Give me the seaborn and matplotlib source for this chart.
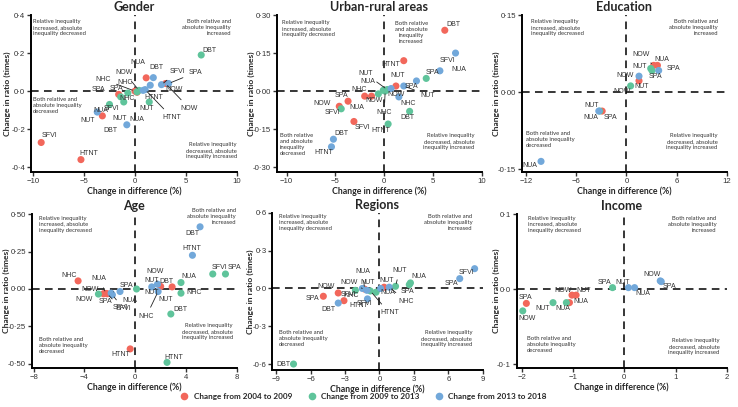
import numpy as np
import pandas as pd
import matplotlib
matplotlib.use("Agg")
import matplotlib.pyplot as plt
import seaborn as sns
from matplotlib.ticker import FuncFormatter
from matplotlib.lines import Line2D

# -----------------------------
# Data
# period: 0 = 2004-2009, 1 = 2009-2013, 2 = 2013-2018
# -----------------------------

periods = ["Change from 2004 to 2009", "Change from 2009 to 2013", "Change from 2013 to 2018"]
colors = ["#F2675B", "#5FC49B", "#72A8DA"]

# Gender
gender_ind = ["SFVI", "HTNT", "DBT", "SPA", "NHC", "NUT", "NUA", "NOW",
              "DBT", "NUA", "SFVI", "SPA", "NUT", "HTNT", "NHC", "NOW",
              "NUT", "NUA", "DBT", "SFVI", "SPA", "NOW", "NHC", "HTNT"]
gender_per = [0, 0, 0, 0, 0, 0, 0, 0, 1, 1, 1, 1, 1, 1, 1, 1, 2, 2, 2, 2, 2, 2, 2, 2]
gender_diff = [-9.2, -5.3, -3.2, -1.6, 0.0, 0.2, 1.1, 3.0,
               6.5, -2.5, -1.4, -0.7, -1.1, 1.4, 0.2, 0.4,
               -3.7, -0.8, 1.8, 2.6, 3.3, 1.5, 0.8, 1.0]
gender_ratio = [-0.27, -0.36, -0.13, -0.017, 0.0, -0.006, 0.07, 0.04,
                0.19, -0.07, -0.03, -0.01, -0.057, -0.057, -0.004, 0.004,
                -0.11, -0.177, 0.071, 0.034, 0.04, 0.031, 0.004, 0.008]

# Urban-rural areas
urban_ind = ["DBT", "HTNT", "NUT", "SFVI", "NOW", "SPA", "NHC", "NUA",
             "SPA", "DBT", "HTNT", "SFVI", "NOW", "NUA", "NUT", "NHC",
             "SFVI", "NUA", "SPA", "NUT", "NOW", "NHC", "DBT", "HTNT"]
urban_per = [0, 0, 0, 0, 0, 0, 0, 0, 1, 1, 1, 1, 1, 1, 1, 1, 2, 2, 2, 2, 2, 2, 2, 2]
urban_diff = [6.2, 2.0, 1.2, -3.1, -4.6, -3.7, -2.0, -1.3,
              4.3, 2.6, 0.4, -4.4, -0.6, -0.1, 0.3, 0.1,
              7.3, 5.7, 3.3, 2.0, 0.7, 1.5, -5.2, -5.4]
urban_ratio = [0.24, 0.12, 0.02, -0.12, -0.06, -0.04, -0.02, -0.02,
               0.05, -0.08, -0.13, -0.07, -0.011, 0.003, 0.006, 0.0,
               0.15, 0.08, 0.04, 0.02, 0.01, -0.023, -0.19, -0.22]

# Education
edu_ind = ["NOW", "NUA", "NUT", "SPA",
           "NUT", "SPA", "NOW", "NUA",
           "NUA", "NUT", "SPA", "NOW"]
edu_per = [0, 0, 0, 0, 1, 1, 1, 1, 2, 2, 2, 2]
edu_diff = [3.25, 3.7, 1.5, -2.9,
            2.9, 3.05, 0.5, -3.2,
            -10.2, -3.3, 3.85, 1.5]
edu_ratio = [0.052, 0.052, 0.022, -0.037,
             0.046, 0.042, 0.012, -0.037,
             -0.135, -0.037, 0.042, 0.031]

# Age
age_ind = ["NHC", "NOW", "NUA", "SPA", "SFVI", "HTNT", "DBT", "NUT",
           "NOW", "SPA", "SFVI", "NUA", "NHC", "DBT", "HTNT", "NUT",
           "DBT", "HTNT", "NUA", "SPA", "SFVI", "NUT", "NOW", "NHC"]
age_per = [0, 0, 0, 0, 0, 0, 0, 0, 1, 1, 1, 1, 1, 1, 1, 1, 2, 2, 2, 2, 2, 2, 2, 2]
age_diff = [-4.5, -2.4, -2.3, -2.5, -2.2, -0.4, 2.9, 2.0,
            -2.9, 7.1, 6.1, 3.6, 3.6, 2.8, 2.5, 0.1,
            5.1, 4.5, -1.2, -1.9, -1.8, 1.3, 1.75, 1.8]
age_ratio = [0.054, -0.03, -0.03, -0.032, -0.032, -0.40, 0.014, 0.017,
             -0.034, 0.10, 0.10, 0.043, -0.028, -0.167, -0.49, 0.0,
             0.415, 0.225, -0.017, -0.028, -0.039, 0.014, 0.032, -0.017]

# Regions
reg_ind = ["SPA", "NOW", "SFVI", "NUT", "NUA",
           "DBT", "NHC", "SFVI", "NUT", "NUA", "SPA", "HTNT",
           "SFVI", "SPA", "NHC", "NUA", "NUT", "NOW", "HTNT", "DBT"]
reg_per = [0, 0, 0, 0, 0, 1, 1, 1, 1, 1, 1, 1, 2, 2, 2, 2, 2, 2, 2, 2]
reg_diff = [-4.9, -3.6, -3.1, 0.4, -1.3,
            -7.5, -2.1, -0.3, 1.4, 2.7, 2.6, -0.8,
            8.3, 7.0, 0.85, 0.1, -1.1, -1.5, -1.05, -3.6]
reg_ratio = [-0.062, -0.036, -0.097, 0.01, -0.005,
             -0.60, -0.015, -0.03, 0.017, 0.044, 0.03, -0.02,
             0.157, 0.078, 0.01, 0.0, -0.015, 0.0, -0.083, -0.116]

# Income
inc_ind = ["SPA", "NUA", "NOW", "NUT",
           "NOW", "NUT", "NUA", "SPA",
           "NUT", "NUA", "NOW", "SPA"]
inc_per = [0, 0, 0, 0, 1, 1, 1, 1, 2, 2, 2, 2]
inc_diff = [-1.91, -1.07, -1.02, -0.94,
            -1.98, -1.39, -1.13, -0.23,
            0.08, 0.2, 0.70, 0.72]
inc_ratio = [-0.019, -0.018, -0.008, -0.008,
             -0.029, -0.018, -0.018, 0.002,
             0.002, 0.002, 0.011, 0.010]

# -----------------------------
# Label placement (offset in pixels, leader line yes/no)
# -----------------------------

gender_lab = [(8, 7, 0), (8, 6, 0), (8, -15, 0), (-20, 5, 0), (-32, 12, 1), (10, -16, 0), (-8, 15, 0), (24, -25, 1),
              (8, 5, 0), (-9, -6, 0), (-9, -12, 0), (-11, 5, 0), (-4, -17, 0), (5, 4, 0), (-10, -7, 0), (-15, 18, 1),
              (-10, -8, 0), (10, 5, 0), (3, 10, 0), (16, 13, 1), (27, 11, 1), (24, -4, 0), (-18, 8, 0), (27, -28, 1)]
urban_lab = [(9, 6, 0), (-13, -4, 0), (2, 11, 0), (9, -6, 0), (-17, 3, 0), (-7, 6, 0), (-6, 7, 0), (-15, -11, 1),
             (6, 6, 0), (-2, -6, 0), (-7, -6, 0), (-9, -4, 0), (-4, -7, 0), (-15, 9, 0), (-22, 16, 1), (-1, -21, 1),
             (-8, -7, 0), (19, 1, 0), (-5, -6, 0), (24, -9, 1), (5, -6, 0), (9, -7, 0), (8, 6, 0), (-8, -6, 0)]
edu_lab = [(-13, 11, 1), (4, 6, 0), (3, -6, 0), (8, -6, 0),
           (-11, 2, 0), (3, -6, 0), (-9, -6, 0), (-9, -6, 0),
           (-11, -4, 0), (-7, 6, 0), (15, 2, 0), (-14, 1, 0)]
age_lab = [(-9, 5, 0), (-15, 4, 0), (-7, 15, 1), (2, -8, 0), (13, -14, 1), (-9, -6, 0), (-6, 5, 0), (5, -13, 0),
           (-14, -5, 0), (9, 7, 0), (7, 7, 0), (8, 6, 0), (13, 1, 0), (10, 4, 0), (7, 5, 0), (15, -4, 0),
           (-8, -7, 0), (-1, 7, 0), (10, -9, 0), (15, 8, 1), (11, -14, 1), (0, 6, 0), (-2, 13, 1), (-12, -25, 1)]
reg_lab = [(-11, -2, 0), (-12, 6, 0), (5, 6, 0), (3, 7, 0), (-2, 18, 1),
           (-10, 0, 0), (-4, -5, 0), (-12, -11, 0), (4, 16, 1), (8, 6, 0), (-2, -7, 0), (19, -22, 1),
           (-8, -4, 0), (-8, -5, 0), (17, -14, 1), (7, -4, 0), (1, 8, 0), (-13, 6, 1), (-9, -7, 0), (-10, -6, 0)]
inc_lab = [(-1, 6, 0), (11, 1, 0), (-9, 5, 0), (8, 5, 0),
           (4, -8, 0), (-10, -6, 0), (-4, -6, 0), (-8, 5, 0),
           (-6, 5, 0), (8, -6, 0), (-8, 6, 0), (8, -5, 0)]

# -----------------------------
# Style
# -----------------------------

sns.set_style("ticks")
plt.rcParams["font.family"] = ["Liberation Sans", "DejaVu Sans"]
head_font = ["Lato", "DejaVu Sans"]

FIG_W = 738
fig = plt.figure(figsize=(7.38, 4.07), dpi=100)

TL = "Relative inequality\nincreased, absolute\ninequality decreased"
TR = "Both relative and\nabsolute inequality\nincreased"
BL = "Both relative and\nabsolute inequality\ndecreased"
BR = "Relative inequality\ndecreased, absolute\ninequality increased"
TR4 = "Both relative\nand absolute\ninequality\nincreased"
BL4 = "Both relative\nand absolute\ninequality\ndecreased"

# ylab_px: right edge (in figure pixels) of the rotated y label
panels = [
    dict(title="Gender", ind=gender_ind, per=gender_per, x=gender_diff, y=gender_ratio, lab=gender_lab,
         rect=[0.042, 0.577, 0.279, 0.386], ylab_px=11, xlim=(-10.2, 10), ylim=(-0.426, 0.4),
         xt=[-10, -5, 0, 5, 10], yt=[-0.4, -0.2, 0.0, 0.2, 0.4], dec=1,
         quad=[(TL, 0.01, 0.975, "left"), (TR, 0.97, 0.975, "right"),
               (BL, 0.01, 0.48, "left"), (BR, 1.0, 0.19, "right")]),
    dict(title="Urban-rural areas", ind=urban_ind, per=urban_per, x=urban_diff, y=urban_ratio, lab=urban_lab,
         rect=[0.375, 0.577, 0.278, 0.386], ylab_px=255, xlim=(-11.0, 10), ylim=(-0.32, 0.30),
         xt=[-10, -5, 0, 5, 10], yt=[-0.30, -0.15, 0.0, 0.15, 0.30], dec=2,
         quad=[(TL, 0.025, 0.97, "left"), (TR4, 0.655, 0.965, "center"),
               (BL4, 0.015, 0.25, "left"), (BR, 0.965, 0.25, "right")]),
    dict(title="Education", ind=edu_ind, per=edu_per, x=edu_diff, y=edu_ratio, lab=edu_lab,
         rect=[0.707, 0.577, 0.278, 0.386], ylab_px=500, xlim=(-12.5, 12), ylim=(-0.156, 0.15),
         xt=[-12, -6, 0, 6, 12], yt=[-0.15, 0.0, 0.15], dec=2,
         quad=[(TL, 0.045, 0.975, "left"), (TR, 0.955, 0.975, "right"),
               (BL, 0.02, 0.26, "left"), (BR, 0.955, 0.25, "right")]),
    dict(title="Age", ind=age_ind, per=age_per, x=age_diff, y=age_ratio, lab=age_lab,
         rect=[0.043, 0.096, 0.278, 0.378], ylab_px=10, xlim=(-8.15, 8), ylim=(-0.527, 0.5),
         xt=[-8, -4, 0, 4, 8], yt=[-0.50, -0.25, 0.0, 0.25, 0.50], dec=2,
         quad=[(TL, 0.035, 0.99, "left"), (TR, 0.995, 1.04, "right"),
               (BL, 0.035, 0.2, "left"), (BR, 0.98, 0.29, "right")]),
    dict(title="Regions", ind=reg_ind, per=reg_per, x=reg_diff, y=reg_ratio, lab=reg_lab,
         rect=[0.369, 0.091, 0.285, 0.386], ylab_px=254, xlim=(-9.35, 9), ylim=(-0.647, 0.6),
         xt=[-9, -6, -3, 0, 3, 6, 9], yt=[-0.6, -0.3, 0.0, 0.3, 0.6], dec=1,
         quad=[(TL, 0.03, 0.995, "left"), (TR, 0.95, 0.995, "right"),
               (BL, 0.03, 0.255, "left"), (BR, 0.95, 0.255, "right")]),
    dict(title="Income", ind=inc_ind, per=inc_per, x=inc_diff, y=inc_ratio, lab=inc_lab,
         rect=[0.70, 0.096, 0.285, 0.378], ylab_px=500, xlim=(-2.1, 2), ylim=(-0.105, 0.1),
         xt=[-2, -1, 0, 1, 2], yt=[-0.1, 0.0, 0.1], dec=1,
         quad=[(TL, 0.055, 0.99, "left"), (TR, 0.95, 0.99, "right"),
               (BL, 0.05, 0.21, "left"), (BR, 0.965, 0.195, "right")]),
]


def dot_fmt(dec):
    return FuncFormatter(lambda v, p: f"{v:.{dec}f}".replace(".", "\u00b7"))


for p in panels:
    ax = fig.add_axes(p["rect"])
    df = pd.DataFrame({
        "Indicator": p["ind"],
        "Period": [periods[i] for i in p["per"]],
        "Diff": p["x"],
        "Ratio": p["y"],
    })

    ax.axhline(0, color="black", lw=1.1, ls=(0, (5, 3.5)), zorder=1)
    ax.axvline(0, color="black", lw=1.1, ls=(0, (5, 3.5)), zorder=1)

    sns.scatterplot(data=df, x="Diff", y="Ratio", hue="Period", hue_order=periods,
                    palette=colors, s=26, linewidth=0, legend=False, ax=ax, zorder=3)

    for name, xv, yv, (ox, oy, lead) in zip(df["Indicator"], df["Diff"], df["Ratio"], p["lab"]):
        arrow = dict(arrowstyle="-", color="#222222", lw=0.6, shrinkA=2, shrinkB=2) if lead else None
        ax.annotate(name, (xv, yv), xytext=(ox, oy), textcoords="offset pixels",
                    ha="center", va="center", fontsize=5, color="#333333",
                    arrowprops=arrow, zorder=4)

    for txt, qx, qy, ha in p["quad"]:
        ax.text(qx, qy, txt, transform=ax.transAxes, ha=ha, va="top", multialignment=ha,
                fontsize=4.2, color="#333333", linespacing=1.25, family=head_font)

    ax.set_xlim(p["xlim"])
    ax.set_ylim(p["ylim"])
    ax.set_xticks(p["xt"])
    ax.set_yticks(p["yt"])
    ax.yaxis.set_major_formatter(dot_fmt(p["dec"]))
    ax.tick_params(labelsize=5.6, length=3, width=1, pad=1.2, colors="#333333")
    for s in ["left", "bottom"]:
        ax.spines[s].set_linewidth(1.4)
        ax.spines[s].set_color("black")
    sns.despine(ax=ax)

    ax.set_xlabel("Change in difference (%)", fontsize=6.3, fontweight="bold",
                  family=head_font, labelpad=1)
    ax.set_ylabel("Change in ratio (times)", fontsize=6.1, fontweight="bold",
                  family=head_font)
    x0 = p["rect"][0]
    w = p["rect"][2]
    ax.yaxis.set_label_coords((p["ylab_px"] / FIG_W - x0) / w, 0.5)
    ax.set_title(p["title"], fontsize=9, fontweight="bold", family=head_font, pad=3)

handles = [Line2D([0], [0], marker="o", ls="", markersize=5.5, markerfacecolor=c,
                  markeredgewidth=0) for c in colors]
leg = fig.legend(handles, periods, loc="center", bbox_to_anchor=(0.49, 0.025), ncol=3,
                 frameon=False, handletextpad=0.2, columnspacing=1.3,
                 prop={"family": head_font, "weight": "bold", "size": 5.9})

fig.savefig("out.png", dpi=100)
